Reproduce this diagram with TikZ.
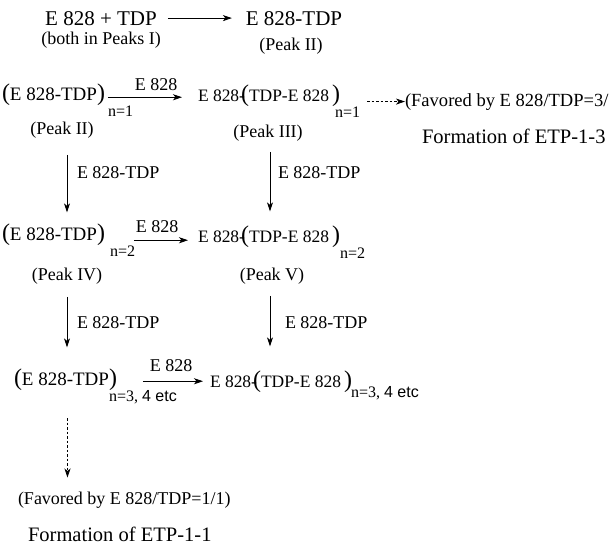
\documentclass[tikz,border=0pt]{standalone}
\usepackage{fontspec}
\setmainfont{Liberation Serif}
\newfontfamily\serifT{Liberation Serif}
\newfontfamily\sansf{Liberation Sans}
\usetikzlibrary{arrows.meta}

% all text is set at one design size and scaled where it must be larger or smaller
\newcommand\lblsize{\serifT\fontsize{18}{20}\selectfont}
\newcommand\sz[2]{\scalebox{#1}{#2}}
% tall parentheses around the repeating unit
\newcommand\bigp[1]{\sz{1.33}{#1}}

\begin{document}
\begin{tikzpicture}[x=1pt,y=-1pt,
  every node/.style={inner sep=0pt, outer sep=0pt, font=\lblsize},
  arr/.style={line width=0.8pt, -{Stealth[length=9pt,width=6pt,inset=2.5pt]}},
  dasharr/.style={arr, dash pattern=on 2.5pt off 2pt},
  subnode/.style={anchor=base west},
  unitnode/.style={anchor=base west},
  ]
\useasboundingbox[fill=white] (0,0) rectangle (614,546);

% ---- first step: complex formation
\node[anchor=base] (s0) at (101,25) {\sz{1.167}{E 828 + TDP}};
\node[anchor=base] (s0p) at (101,45) {(both in Peaks I)};
\node[anchor=base] (p0) at (294,26) {\sz{1.167}{E 828-TDP}};
\node[anchor=base] (p0p) at (291,50) {(Peak II)};
\draw[arr, shorten <=11pt, shorten >=14pt] (s0.east) -- (s0.east -| p0.west);

% ---- n = 1
\node[unitnode] (L1) at (2,100) {\bigp(\sz{1.055}{E 828-TDP}\bigp)};
\node[subnode] (L1n) at (108,116) {\sz{0.89}{n=1}};
\node[anchor=base] (L1e) at (156,90) {E 828};
\node[unitnode] (R1) at (198,101) {\sz{0.97}{E 828-}\kern-4pt\bigp(\sz{0.97}{TDP-E 828}\,\bigp)};
\node[subnode] (R1n) at (335,117) {\sz{0.89}{n=1}};
\draw[arr, shorten <=3pt, shorten >=16pt] ([yshift=-3pt]L1.east) -- ([yshift=-3pt]L1.east -| R1.west);
\node[anchor=base] (P2) at (62,134) {(Peak II)};
\node[anchor=base] (P3) at (268,137) {(Peak III)};

\node[anchor=base west] (F3) at (405,106) {\sz{1.03}{(Favored by E 828/TDP=3/}};
\node[anchor=base west] (E3) at (422,143) {\sz{1.14}{Formation of ETP-1-3}};
\draw[dasharr, shorten <=27pt] (R1.east |- F3.west) -- (F3.west);

% ---- growth to n = 2
\node[anchor=base west] (V1Lt) at (77,178) {E 828-TDP};
\node[anchor=base west] (V1Rt) at (278,178) {E 828-TDP};

\node[unitnode] (L2) at (2,240) {\bigp(\sz{1.055}{E 828-TDP}\bigp)};
\node[subnode] (L2n) at (110,256) {\sz{0.89}{n=2}};
\node[anchor=base] (L2e) at (157,232) {E 828};
\node[unitnode] (R2) at (198,242) {\sz{0.97}{E 828-}\kern-4pt\bigp(\sz{0.97}{TDP-E 828}\,\bigp)};
\node[subnode] (R2n) at (340,258) {\sz{0.89}{n=2}};
\draw[arr, shorten <=29pt, shorten >=10pt] ([yshift=-6pt]L2.east) -- ([yshift=-6pt]L2.east -| R2.west);
\node[anchor=base] (P4) at (67,280) {(Peak IV)};
\node[anchor=base] (P5) at (272,280) {(Peak V)};

\draw[arr, shorten <=17pt, shorten >=11pt] ([xshift=5pt]P2.south) -- ([xshift=5pt]P2.south |- L2.north);
\draw[arr, shorten <=11pt, shorten >=14pt] ([xshift=2pt]P3.south) -- ([xshift=2pt]P3.south |- R2.north);

% ---- growth to n = 3, 4 ...
\node[anchor=base west] (V2Lt) at (77,328) {E 828-TDP};
\node[anchor=base west] (V2Rt) at (285,328) {E 828-TDP};

\node[unitnode] (L3) at (14,385) {\bigp(\sz{1.055}{E 828-TDP}\bigp)};
\node[subnode] (L3n) at (109,401) {\sz{0.89}{n=3, {\sansf 4 etc}}};
\node[anchor=base] (L3e) at (171,371) {E 828};
\node[unitnode] (R3) at (210,387) {\sz{0.97}{E 828-}\kern-4pt\bigp(\sz{0.97}{TDP-E 828}\,\bigp)};
\node[subnode] (R3n) at (351,397) {\sz{0.89}{n=3, {\sansf 4 etc}}};
\draw[arr, shorten <=26pt, shorten >=7pt] ([yshift=-2pt]L3.east) -- ([yshift=-2pt]L3.east -| R3.west);

\draw[arr, shorten <=13pt, shorten >=21pt] (P4.south) -- (P4.south |- L3.north);
\draw[arr, shorten <=12pt, shorten >=24pt] ([xshift=-2pt]P5.south) -- ([xshift=-2pt]P5.south |- R3.north);

% ---- end product of the chain
\node[anchor=base west] (F1) at (18,504) {(Favored by E 828/TDP=1/1)};
\node[anchor=base west] (E1) at (28,541) {\sz{1.14}{Formation of ETP-1-1}};
\draw[dasharr, shorten <=28pt, shorten >=14pt] ([xshift=2pt]L3.south) -- ([xshift=2pt]L3.south |- F1.north);
\end{tikzpicture}
\end{document}
